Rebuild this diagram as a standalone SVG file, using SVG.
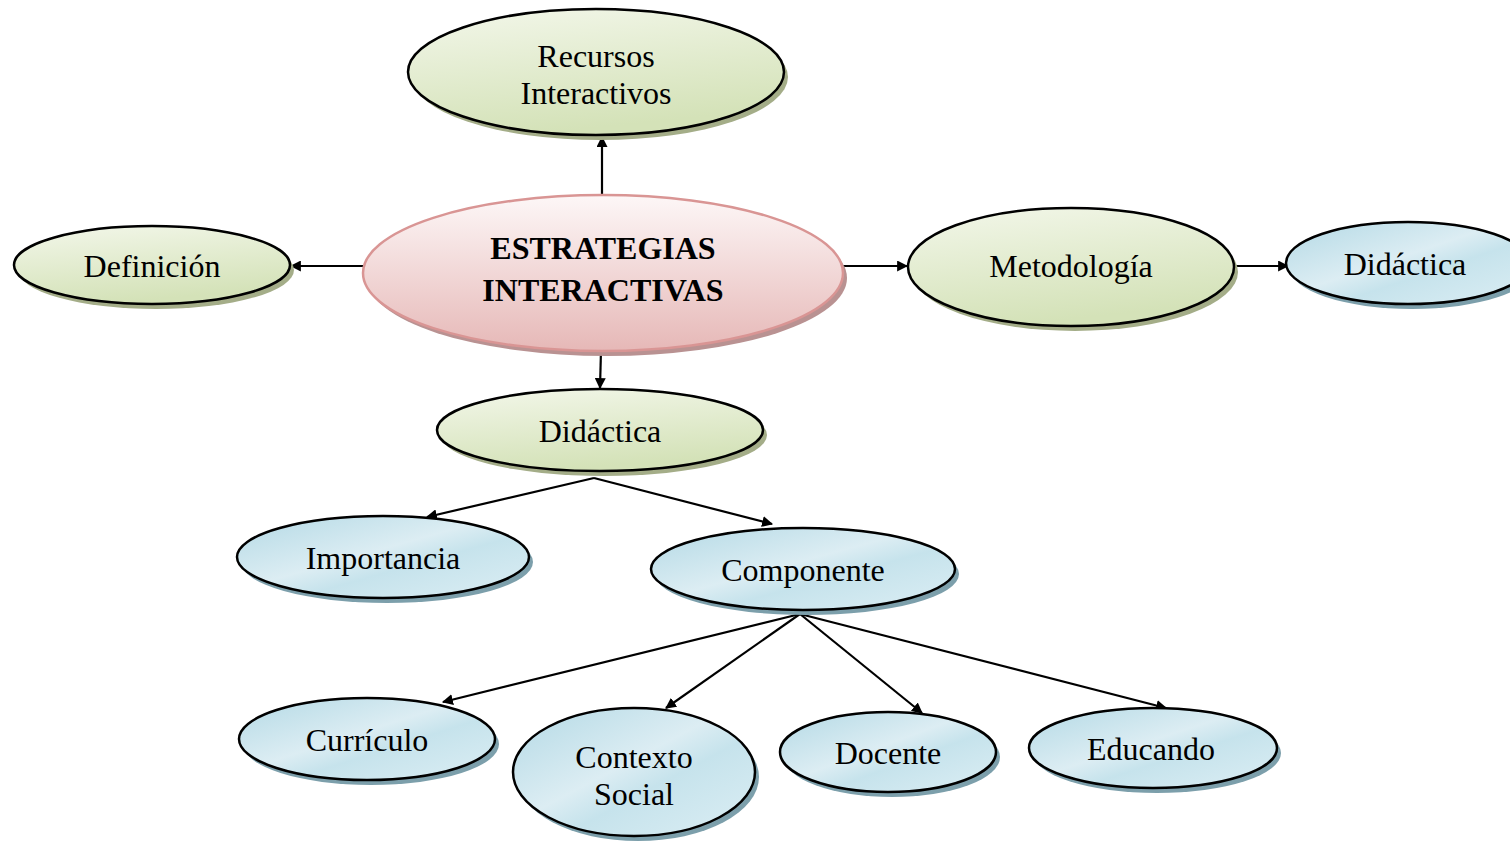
<svg xmlns="http://www.w3.org/2000/svg" width="1510" height="841" viewBox="0 0 1510 841">
<defs>
<linearGradient id="gGreen" x1="0" y1="0" x2="0.3" y2="1">
<stop offset="0" stop-color="#f3f7ea"/>
<stop offset="1" stop-color="#d4e2b8"/>
</linearGradient>
<linearGradient id="gBlue" x1="0" y1="0" x2="1" y2="1">
<stop offset="0" stop-color="#b3d9e5"/>
<stop offset="0.45" stop-color="#dcedf3"/>
<stop offset="0.6" stop-color="#c6e3ec"/>
<stop offset="1" stop-color="#dceef4"/>
</linearGradient>
<linearGradient id="gPink" x1="0" y1="0" x2="0" y2="1">
<stop offset="0" stop-color="#fdf7f7"/>
<stop offset="1" stop-color="#e6b8b7"/>
</linearGradient>
<marker id="arr" viewBox="0 0 10 10" refX="9" refY="5" markerWidth="5" markerHeight="5" orient="auto" markerUnits="strokeWidth">
<path d="M0,0 L10,5 L0,10 z" fill="#000"/>
</marker>
<style>
.g{fill:url(#gGreen);stroke:#000;stroke-width:2.5}
.b{fill:url(#gBlue);stroke:#000;stroke-width:2.5}
.p{fill:url(#gPink);stroke:#d99594;stroke-width:2.5}
.sg{fill:#a4ad88}
.sb{fill:#7c9fab}
.sp{fill:#b99292}
.t{font-family:"Liberation Serif","Times New Roman",serif;font-size:32px;fill:#000;text-anchor:middle}
.tb{font-family:"Liberation Serif","Times New Roman",serif;font-size:32px;font-weight:bold;fill:#000;text-anchor:middle}
.c{stroke:#000;stroke-width:2.2;fill:none;marker-end:url(#arr)}
</style>
</defs>
<rect width="1510" height="841" fill="#fff"/>
<g id="connectors">
<line class="c" x1="602" y1="195" x2="602" y2="137"/>
<line class="c" x1="363" y1="266" x2="291" y2="266"/>
<line class="c" x1="843" y1="266" x2="907" y2="266"/>
<line class="c" x1="1236" y1="266" x2="1288" y2="266"/>
<line class="c" x1="601" y1="350" x2="600" y2="388"/>
<line class="c" x1="594" y1="478" x2="427" y2="517"/>
<line class="c" x1="594" y1="478" x2="772" y2="524"/>
<line class="c" x1="800" y1="614" x2="443" y2="702"/>
<line class="c" x1="800" y1="614" x2="666" y2="708"/>
<line class="c" x1="800" y1="614" x2="922" y2="713"/>
<line class="c" x1="800" y1="614" x2="1166" y2="708"/>
</g>
<g id="recursos">
<ellipse class="sg" cx="600" cy="77" rx="188" ry="63"/>
<ellipse class="g" cx="596" cy="72" rx="188" ry="63"/>
<text class="t" x="596" y="67">Recursos</text>
<text class="t" x="596" y="104">Interactivos</text>
</g>
<g id="definicion">
<ellipse class="sg" cx="156" cy="270" rx="138" ry="39"/>
<ellipse class="g" cx="152" cy="265" rx="138" ry="39"/>
<text class="t" x="152" y="277">Definición</text>
</g>
<g id="central">
<ellipse class="sp" cx="607" cy="278" rx="240" ry="78"/>
<ellipse class="p" cx="603" cy="273" rx="240" ry="78"/>
<text class="tb" x="603" y="259">ESTRATEGIAS</text>
<text class="tb" x="603" y="301">INTERACTIVAS</text>
</g>
<g id="metodologia">
<ellipse class="sg" cx="1075" cy="272" rx="163" ry="59"/>
<ellipse class="g" cx="1071" cy="267" rx="163" ry="59"/>
<text class="t" x="1071" y="277">Metodología</text>
</g>
<g id="didactica-right">
<ellipse class="sb" cx="1412" cy="268" rx="122" ry="41"/>
<ellipse class="b" cx="1408" cy="263" rx="122" ry="41"/>
<text class="t" x="1405" y="275">Didáctica</text>
</g>
<g id="didactica-center">
<ellipse class="sg" cx="604" cy="435" rx="163" ry="41"/>
<ellipse class="g" cx="600" cy="430" rx="163" ry="41"/>
<text class="t" x="600" y="442">Didáctica</text>
</g>
<g id="importancia">
<ellipse class="sb" cx="387" cy="562" rx="146" ry="41"/>
<ellipse class="b" cx="383" cy="557" rx="146" ry="41"/>
<text class="t" x="383" y="569">Importancia</text>
</g>
<g id="componente">
<ellipse class="sb" cx="807" cy="574" rx="152" ry="41"/>
<ellipse class="b" cx="803" cy="569" rx="152" ry="41"/>
<text class="t" x="803" y="581">Componente</text>
</g>
<g id="curriculo">
<ellipse class="sb" cx="371" cy="744" rx="128" ry="41"/>
<ellipse class="b" cx="367" cy="739" rx="128" ry="41"/>
<text class="t" x="367" y="751">Currículo</text>
</g>
<g id="contexto">
<ellipse class="sb" cx="638" cy="777" rx="121" ry="64"/>
<ellipse class="b" cx="634" cy="772" rx="121" ry="64"/>
<text class="t" x="634" y="768">Contexto</text>
<text class="t" x="634" y="805">Social</text>
</g>
<g id="docente">
<ellipse class="sb" cx="892" cy="757" rx="108" ry="40"/>
<ellipse class="b" cx="888" cy="752" rx="108" ry="40"/>
<text class="t" x="888" y="764">Docente</text>
</g>
<g id="educando">
<ellipse class="sb" cx="1157" cy="753" rx="124" ry="40"/>
<ellipse class="b" cx="1153" cy="748" rx="124" ry="40"/>
<text class="t" x="1151" y="760">Educando</text>
</g>
</svg>
